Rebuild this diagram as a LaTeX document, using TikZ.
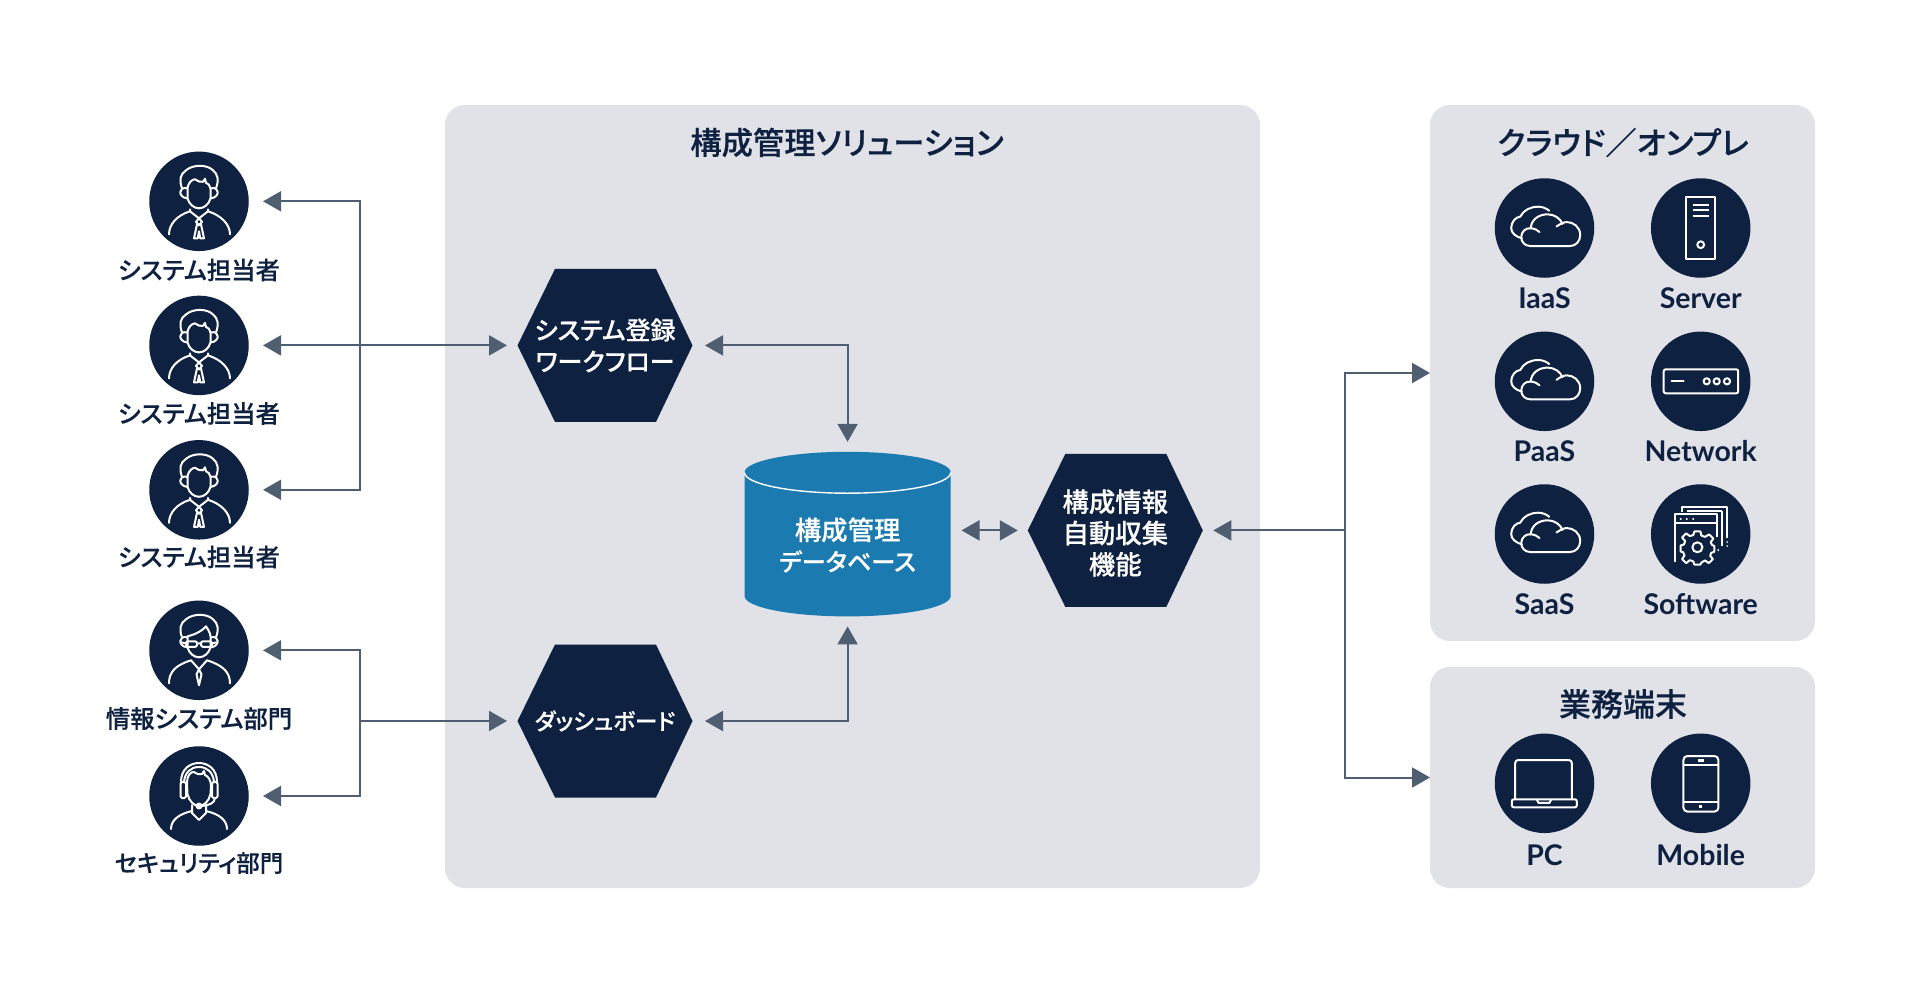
\documentclass[tikz,border=0pt]{standalone}
\usepackage{fontspec}
\usetikzlibrary{arrows.meta}
\setmainfont{Lato}
\newfontfamily\jp[RawFeature=+palt,BoldFont={Noto Sans CJK JP Medium},BoldFeatures={FakeBold=0.35}]{Noto Sans CJK JP}
\definecolor{navy}{HTML}{0F2140}
\definecolor{panel}{HTML}{E0E2E8}
\definecolor{dbblue}{HTML}{1B7AAF}
\definecolor{lineclr}{HTML}{505E72}
\tikzset{
  panelbox/.style={fill=panel,rounded corners=20pt},
  disc/.style={circle,fill=navy,minimum size=99.5pt,inner sep=0pt,outer sep=0pt},
  hexnode/.style={minimum width=175pt,minimum height=153pt,inner sep=0pt,outer sep=0pt,align=center,text=white,font=\jp\bfseries\fontsize{25}{31.5}\selectfont},
  hexfill/.pic={\fill[navy] (-87.5,0) -- (-50,-76.5) -- (51,-76.5) -- (87.5,0) -- (51,76.5) -- (-50,76.5) -- cycle;},
  title/.style={text=navy,inner sep=0pt,font=\jp\bfseries\fontsize{31.3}{34}\selectfont},
  jplabel/.style={text=navy,inner sep=0pt,font=\jp\bfseries\fontsize{24.4}{26}\selectfont},
  enlabel/.style={text=navy,inner sep=0pt,font=\bfseries\fontsize{28.5}{30}\selectfont},
  conn/.style={draw=lineclr,line width=2pt},
  tipped/.style={conn,-{Triangle[length=18pt,width=20pt,fill=lineclr]}},
  tippedboth/.style={conn,{Triangle[length=18pt,width=20pt,fill=lineclr]}-{Triangle[length=18pt,width=20pt,fill=lineclr]}},
  ico/.style={draw=white,line width=2pt,line cap=round,line join=round},
  cloudicon/.pic={
    \draw[ico] (-14.3,18) -- (25.7,18) .. controls (31.5,18) and (35.7,13) .. (35.7,7) .. controls (35.7,-1) and (29,-6) .. (22,-6) .. controls (20,-6) and (18,-5.5) .. (12,-1.5);
    \draw[ico] (-14.3,18) .. controls (-19.5,18) and (-23.3,14) .. (-23.3,9.3) .. controls (-23.3,4) and (-19,-0.5) .. (-13.7,0.3) .. controls (-13.5,-8) and (-6,-13.7) .. (3,-13.7) .. controls (10,-13.7) and (16,-9.5) .. (18,-4);
    \draw[ico] (-13.7,0.3) .. controls (-10,0.5) and (-7,2) .. (-5,4);
    \draw[ico] (-22.7,10.3) .. controls (-29,8.5) and (-33.3,5) .. (-33.3,0) .. controls (-33.3,-6) and (-29,-11) .. (-24.3,-11.3) .. controls (-21,-18) and (-14,-21.3) .. (-6,-21.3) .. controls (-2,-21.3) and (2,-19.5) .. (4.7,-17.3);
  },
  serverIcon/.pic={
    \draw[ico,line cap=butt] (-14.7,-30.7) rectangle (14.7,31.3);
    \draw[ico,line cap=butt] (-8,-23) -- (8,-23) (-8,-18) -- (8,-18) (-8,-12.5) -- (8,-12.5);
    \draw[ico] (0,16.7) circle[radius=3.4];
  },
  networkIcon/.pic={
    \draw[ico,rounded corners=2pt] (-37,-12) rectangle (37.5,12);
    \draw[ico] (-29,0) -- (-17,0);
    \foreach \cx in {6,16,26.3} {\draw[ico] (\cx,0) circle[radius=3.1];}
  },
  softwareIcon/.pic={
    \draw[ico,line cap=butt] (-19,-22.5) -- (-19,-26.7) -- (26,-26.7) -- (26,4);
    \draw[ico,line cap=butt] (-14,-23) -- (21,-23);
    \draw[ico,line cap=butt] (21,-23) -- (21,12);
    \draw[ico,line cap=butt] (-25.7,27.7) -- (-25.7,-19.7) -- (16.7,-19.7) -- (16.7,3);
    \draw[ico,line cap=butt] (-25.7,-10.7) -- (16.7,-10.7);
    \fill[white] (-20,-15) circle[radius=1.1] (-14,-15) circle[radius=1.1] (-7.5,-15) circle[radius=1.1];
    \fill[white] (26,7) rectangle (27,9) (26,11) rectangle (27,13) (17,15) rectangle (18.2,17);
    \draw[ico] (-3.3,13.3) circle[radius=5];
    \draw[ico] plot[smooth cycle,tension=0.15] coordinates {
      (-6.3,-2.5) (-0.3,-2.5) (0.6,1.5) (4.5,2.8) (8.3,0.5) (12.5,4.6) (10,8.2) (11.6,11.2) (13.5,11.8) (13.5,17.8) (10.5,18.8) (9.5,22) (12.2,25) (8,29) (4.5,26.5) (0.8,28.5) (-0.3,30.5) (-6.3,30.5) (-7.4,27.5) (-11,26.2) (-14.5,29) (-18.6,25) (-16.2,21.6) (-17.6,18.2) (-20,17.5) (-20,11.5) (-16.8,10.5) (-15.6,7) (-18.6,3.5) (-14.5,-0.5) (-11,2) (-7.4,1)
    };
  },
  laptopIcon/.pic={
    \draw[ico,rounded corners=3pt] (-29.3,15) -- (-29.3,-23.3) -- (27.3,-23.3) -- (27.3,15);
    \draw[ico,rounded corners=2pt] (-32.7,16) rectangle (32.3,24);
    \draw[ico] (-7.5,16.5) -- (-6,19.5) -- (5,19.5) -- (6.5,16.5);
  },
  mobileIcon/.pic={
    \draw[ico,rounded corners=4pt] (-17.3,-27.3) rectangle (17.7,28.3);
    \draw[ico,line cap=butt] (-17.3,-18.3) -- (17.7,-18.3) (-17.3,18.3) -- (17.7,18.3);
    \fill[white] (-3.2,-24) rectangle (3.2,-21.5);
    \fill[white] (-1.6,21.4) rectangle (1.6,24.6);
  },
  personA/.pic={
    \personhead
    \draw[ico] (-11.5,-14) .. controls (-10,-20) and (-6,-22) .. (-4,-22) .. controls (-1,-20) and (1,-19) .. (4,-19.5) -- (6,-22.5) -- (7,-18.5) .. controls (9,-18) and (11,-16) .. (11.5,-13);
    \draw[ico] (-9,8) -- (-9,10) -- (0,17) -- (9,10) -- (9,8);
    \draw[ico] (-30,33) .. controls (-30,23) and (-22,14) .. (-9,10);
    \draw[ico] (31,33) .. controls (31,23) and (22,14) .. (9,10);
    \draw[ico] (0,17) -- (-3,20.5) -- (0,24) -- (3,20.5) -- cycle;
    \draw[ico] (-2,23) -- (-5,37) -- (-1.2,37) -- (0,30) -- (1.2,37) -- (5,37) -- (2,23);
  },
  personB/.pic={
    \personheadplain
    \draw[ico] (-11.5,-14) .. controls (-7,-15) and (2,-18) .. (7,-24) .. controls (9,-21) and (11,-18) .. (11.5,-14);
    \draw[ico,rounded corners=2pt] (-13,-9) rectangle (-2,-3.5);
    \draw[ico,rounded corners=2pt] (2,-9) rectangle (13,-3.5);
    \draw[ico] (-2,-7) -- (2,-7) (-13,-7) -- (-18,-8) (13,-7) -- (18,-8);
    \draw[ico] (-8,10) -- (0,19) -- (8,10);
    \draw[ico] (-30,33) .. controls (-30,22) and (-24,15) .. (-8,10);
    \draw[ico] (31,33) .. controls (31,22) and (24,15) .. (8,10);
    \draw[ico] (0,19) -- (-2.5,24) -- (0,35) -- (2.5,24) -- cycle;
  },
  personC/.pic={
    \draw[ico] (-12,-12) .. controls (-12,-22) and (-8,-24) .. (-5,-24) .. controls (-2,-22) and (1,-21) .. (3,-22) -- (5,-25) -- (6,-21) .. controls (9,-20) and (12,-16) .. (12,-10);
    \draw[ico] (-12,-12) -- (-11.5,-2) .. controls (-10,5) and (-5,10) .. (0,10) .. controls (5,10) and (10,5) .. (11.5,-2) -- (12,-10);
    \draw[ico] (-18,-14) .. controls (-18,-27) and (-9,-33) .. (0,-33) .. controls (9,-33) and (18,-27) .. (18,-14);
    \draw[ico] (-15,-14) .. controls (-14,-24) and (-8,-29) .. (0,-29) .. controls (8,-29) and (14,-24) .. (15,-14);
    \draw[ico,rounded corners=1.5pt] (-18.5,-14) rectangle (-13,2);
    \draw[ico,rounded corners=1.5pt] (13,-14) rectangle (18.5,2);
    \draw[ico] (16,2) .. controls (16,7) and (10,9.5) .. (2,10);
    \draw[ico] (0,10) circle[radius=2.4];
    \draw[ico] (-7,9) -- (-7,17) -- (0,24) -- (7,17) -- (7,9);
    \draw[ico] (-28,33) .. controls (-28,24) and (-20,18) .. (-7,15);
    \draw[ico] (28,33) .. controls (28,24) and (20,18) .. (7,15);
  },
}
\newcommand{\personheadplain}{%
  \draw[ico] (-17,-13) .. controls (-20,-21) and (-19,-27) .. (-13,-31) .. controls (-6,-37) and (8,-37) .. (14,-31) .. controls (19,-27) and (20,-21) .. (17,-13);
  \draw[ico] (-11.5,-14) -- (-11.5,-3) .. controls (-10,3) and (-5,7) .. (0,7) .. controls (5,7) and (10,3) .. (11.5,-3) -- (11.5,-13);
  \draw[ico] (-12,-13) .. controls (-21,-15) and (-21,-4) .. (-12,-3);
  \draw[ico] (12,-13) .. controls (21,-15) and (21,-4) .. (12,-3);
}
\newcommand{\personhead}{\personheadplain}
\begin{document}
\begin{tikzpicture}[x=1pt,y=-1pt]
\useasboundingbox (0,0) rectangle (1920,993);
\fill[white] (0,0) rectangle (1920,993);
% panels
\fill[panelbox] (445,105) rectangle (1260,888);
\fill[panelbox] (1430,105) rectangle (1815,641);
\fill[panelbox] (1430,667) rectangle (1815,888);
\node[title] (t1) at (847,142.5) {構成管理ソリューション};
\node[title] (t2) at (1623,142.5) {クラウド／オンプレ};
\node[title,font=\jp\bfseries\fontsize{32}{34}\selectfont] (t3) at (1623,704) {業務端末};
% hexagons
\pic at (605,345.4) {hexfill};
\pic at (605,721) {hexfill};
\pic at (1115.3,530.4) {hexfill};
\node[hexnode] (h1) at (605,345.4) {システム登録\\ワークフロー};
\node[hexnode,font=\jp\bfseries\fontsize{22.6}{31}\selectfont] (h2) at (605,721) {ダッシュボード};
\node[hexnode] (h3) at (1115.3,530.4) {};
\node[align=center,inner sep=0pt,text=white,font=\jp\bfseries\fontsize{26.4}{31.3}\selectfont] (h3l) at (1115.3,533) {構成情報\\自動収集\\機能};
% database
\fill[dbblue] (744.5,472.5) -- (744.5,596) arc[start angle=180,end angle=0,x radius=103.1,y radius=20.4] -- (950.7,472.5) arc[start angle=0,end angle=-180,x radius=103.1,y radius=20.7] -- cycle;
\draw[white,line width=1.4pt] (744.5,472.5) arc[start angle=180,end angle=0,x radius=103.1,y radius=20.7];
\node[minimum width=206.2pt,minimum height=164.6pt,inner sep=0pt,outer sep=0pt] (db) at (847.6,534.1) {};
\node[align=center,inner sep=0pt,text=white,font=\jp\bfseries\fontsize{26.4}{31}\selectfont] (dbl) at (847.6,545) {構成管理\\{\fontsize{24.2}{31}\selectfont データベース}};
% people
\foreach \nm/\yy in {p1/201.3,p2/345.4,p3/489.8,p4/650.3,p5/796} {\node[disc] (\nm) at (199,\yy) {};}
\pic at (p1) {personA};
\pic at (p2) {personA};
\pic at (p3) {personA};
\pic at (p4) {personB};
\pic at (p5) {personC};
\node[jplabel] (l1) at (199,270) {システム担当者};
\node[jplabel] (l2) at (199,413.5) {システム担当者};
\node[jplabel] (l3) at (199,557) {システム担当者};
\node[jplabel] (l4) at (199,718.5) {情報システム部門};
\node[jplabel,font=\jp\bfseries\fontsize{23.5}{26}\selectfont] (l5) at (199,863) {セキュリティ部門};
% right discs
\foreach \nm/\xx/\yy in {c1/1544.5/228,c2/1700.7/228,c3/1544.5/381.3,c4/1700.7/381.3,c5/1544.5/534,c6/1700.7/534,c7/1544.5/783.3,c8/1700.7/783.3} {\node[disc] (\nm) at (\xx,\yy) {};}
\pic at (c1) {cloudicon};
\pic at (c3) {cloudicon};
\pic at (c5) {cloudicon};
\pic at (c2) {serverIcon};
\pic at (c4) {networkIcon};
\pic at (c6) {softwareIcon};
\pic at (c7) {laptopIcon};
\pic at (c8) {mobileIcon};
\node[enlabel] (e1) at (1544.5,298) {IaaS};
\node[enlabel] (e2) at (1700.7,298) {Server};
\node[enlabel] (e3) at (1544.5,451) {PaaS};
\node[enlabel] (e4) at (1700.7,451) {Network};
\node[enlabel] (e5) at (1544.5,604) {SaaS};
\node[enlabel] (e6) at (1700.7,604) {Software};
\node[enlabel] (e7) at (1544.5,855) {PC};
\node[enlabel] (e8) at (1700.7,855) {Mobile};
% connectors
\coordinate (j1) at (360,345.4);
\coordinate (j2) at (360,721);
\coordinate (j3) at (1344.5,530.4);
\draw[tipped,shorten >=14.3pt] (j1) |- (p1.east);
\draw[tipped,shorten >=14.3pt] (j1) |- (p3.east);
\draw[tippedboth,shorten <=14.3pt,shorten >=10.5pt] (p2.east) -- (h1.west);
\draw[tipped,shorten >=14.3pt] (j2) |- (p4.east);
\draw[tipped,shorten >=14.3pt] (j2) |- (p5.east);
\draw[tipped,shorten >=10.5pt] (j2) -- (h2.west);
\draw[tippedboth,shorten <=12.5pt,shorten >=10pt] (h1.east) -| (db.north);
\draw[tippedboth,shorten <=12.5pt,shorten >=10pt] (h2.east) -| (db.south);
\draw[tippedboth,shorten <=10.8pt,shorten >=10pt] (db.east |- h3.west) -- (h3.west);
\draw[tipped,shorten >=10.5pt] (j3) -- (h3.east);
\coordinate (r1) at (1430,373);
\coordinate (r2) at (1430,777.5);
\draw[tipped] (j3) |- (r1);
\draw[tipped] (j3) |- (r2);
\end{tikzpicture}
\end{document}
